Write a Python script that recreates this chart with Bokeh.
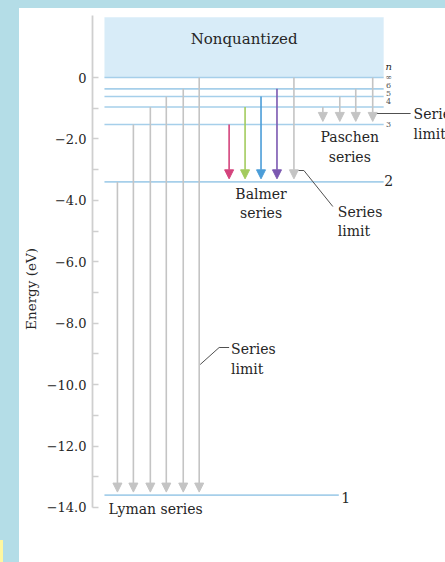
from bokeh.plotting import figure
from bokeh.models import FixedTicker, Arrow, NormalHead, Label, Div, Range1d
from bokeh.layouts import row, column
from bokeh.embed import file_html
from bokeh.resources import INLINE

# ---------------- data (energies in eV) ----------------
level_names = ["1", "2", "3", "4", "5", "6", "∞"]
level_energy = [-13.6, -3.4, -1.53, -0.96, -0.62, -0.37, 0.0]

lyman_upper = [-3.4, -1.53, -0.96, -0.62, -0.37, 0.0]
lyman_lower = -13.6
balmer_upper = [-1.53, -0.96, -0.62, -0.37, 0.0]
balmer_lower = -3.4
paschen_upper = [-0.96, -0.62, -0.37, 0.0]
paschen_lower = -1.53

y_ticks = [0, -2, -4, -6, -8, -10, -12, -14]
y_minor = [-1, -3, -5, -7, -9, -11, -13]
y_tick_labels = ["0", "\u22122.0", "\u22124.0", "\u22126.0", "\u22128.0",
                 "\u221210.0", "\u221212.0", "\u221214.0"]

# ---------------- layout / style constants ----------------
PX = 30.71            # pixels per eV
FONT = "DejaVu Serif"
TXT = "#262626"
LEVEL_C = "#a6cfea"
GRAY = "#c4c4c4"
CONN = "#505050"
BG = "#b4dde7"
balmer_colors = ["#d4437c", "#a3cb5e", "#4b9dd8", "#7b58b1", GRAY]

lyman_x = [116, 132, 149, 165, 182, 198]
balmer_x = [228, 244, 260, 276, 293]
paschen_x = [322, 339, 355, 372]
LINE_L, LINE_R, LINE_R1 = 103, 383, 338
GAP = 0.1

def E(page_y):
    return (77 - page_y) / PX

p = figure(width=426, height=554, output_backend="svg", toolbar_location=None,
           x_axis_location=None, x_range=Range1d(91, 445),
           y_range=Range1d(E(562), E(15)),
           min_border_left=72, min_border_right=0, min_border_top=7,
           min_border_bottom=0, margin=0)
p.outline_line_color = None
p.grid.visible = False
p.background_fill_color = "white"
p.border_fill_color = "white"

ax = p.yaxis[0]
ax.ticker = FixedTicker(ticks=y_ticks, minor_ticks=y_minor)
ax.major_label_overrides = {t: l for t, l in zip(y_ticks, y_tick_labels)}
ax.bounds = (-14, E(15))
ax.axis_line_color = "#cfcfcf"
ax.axis_line_width = 1.8
ax.major_tick_line_color = "#cfcfcf"
ax.minor_tick_line_color = "#cfcfcf"
ax.major_tick_line_width = 1.5
ax.minor_tick_line_width = 1.5
ax.major_tick_in = 6
ax.major_tick_out = 0
ax.minor_tick_in = 6
ax.minor_tick_out = 0
ax.major_label_standoff = 6
ax.major_label_text_font = FONT
ax.major_label_text_font_size = "13px"
ax.major_label_text_color = TXT
ax.axis_label = "Energy (eV)"
ax.axis_label_text_font = FONT
ax.axis_label_text_font_size = "13.5px"
ax.axis_label_text_font_style = "normal"
ax.axis_label_text_color = TXT
ax.axis_label_standoff = 5

# nonquantized region
p.quad(left=LINE_L, right=LINE_R, bottom=0, top=E(16.7),
       fill_color="#d8ecf8", line_color=None)

# energy levels
for name, e in zip(level_names, level_energy):
    right = LINE_R1 if name == "1" else LINE_R
    p.segment(x0=LINE_L, x1=right, y0=e, y1=e, line_color=LEVEL_C, line_width=1.6)

def arrow(x, y0, y1, color):
    p.add_layout(Arrow(end=NormalHead(size=9, fill_color=color, line_color=color),
                       x_start=x, y_start=y0, x_end=x, y_end=y1 + GAP,
                       line_color=color, line_width=1.6))

for x, e in zip(lyman_x, lyman_upper):
    arrow(x, e, lyman_lower, GRAY)
for x, e, c in zip(balmer_x, balmer_upper, balmer_colors):
    arrow(x, e, balmer_lower, c)
for x, e in zip(paschen_x, paschen_upper):
    arrow(x, e, paschen_lower, GRAY)

def label(text, x, y, size="14px", align="left", color=TXT, style="normal"):
    p.add_layout(Label(x=x, y=y, text=text, text_font=FONT, text_font_size=size,
                       text_align=align, text_baseline="middle",
                       text_color=color, text_font_style=style))

label("Nonquantized", 243, E(38), size="15px", align="center")
label("n", 388, E(66), size="10px", align="center", style="italic")
small_y = {"∞": 77, "6": 85, "5": 93, "4": 101, "3": 123.5}
for name, yy in small_y.items():
    label(name, 388, E(yy), size="8px", align="center", color="#555555")
label("2", 388, E(180), align="center")
label("1", 345, E(497), align="center")

label("Lyman series", 107, E(508))
label("Balmer", 260, E(193), align="center")
label("series", 260, E(212), align="center")
label("Paschen", 349, E(136), align="center")
label("series", 349, E(156), align="center")

# series-limit callouts
p.line([374, 410], [E(113), E(113)], line_color=CONN, line_width=1)
label("Series", 413, E(113))
label("limit", 413, E(133))
p.line([297, 303, 332], [E(170), E(170), E(206)], line_color=CONN, line_width=1)
label("Series", 337, E(211))
label("limit", 337, E(230))
p.line([199, 218, 228], [E(364), E(347), E(347)], line_color=CONN, line_width=1)
label("Series", 230, E(348))
label("limit", 230, E(368))

top_strip = Div(text="", width=445, height=8, margin=0,
                styles={"background-color": BG})
left_strip = Div(text='<div style="position:absolute;left:0;top:532px;'
                      'width:3px;height:22px;background:#fff7a0"></div>',
                 width=19, height=554, margin=0,
                 styles={"background-color": BG, "position": "relative"})
layout = column(top_strip, row(left_strip, p, spacing=0), spacing=0)

open("out.html", "w").write(file_html(layout, INLINE))
